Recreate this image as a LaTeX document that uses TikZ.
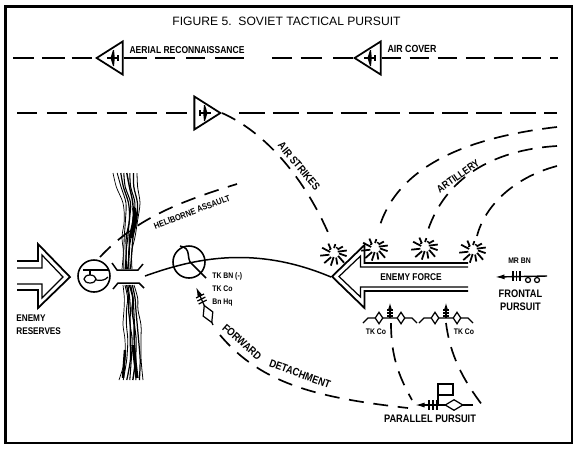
\documentclass[tikz,border=0pt]{standalone}
\usepackage{fontspec}
\setmainfont{Liberation Sans}
\newfontfamily\stencilfont[FakeStretch=0.85]{Liberation Sans}
\usetikzlibrary{arrows.meta, positioning, shapes.geometric, calc}
\newcommand{\lblat}[1]{\stencilfont\bfseries\fontsize{#1}{7.4}\selectfont}
\tikzset{
    frame/.style   ={draw=black, line width=1.5pt},
    solidln/.style ={draw=black, line width=0.85pt},
    dashln/.style  ={draw=black, line width=0.95pt, dash pattern=on 11pt off 5pt},
    curveln/.style ={draw=black, line width=0.95pt, dash pattern=on 8.5pt off 5.5pt},
    thinln/.style  ={draw=black, line width=0.7pt},
    ar/.style      ={-{Latex[length=1.9mm,width=1mm]}, line width=0.8pt, draw=black},
    craft/.style   ={draw=black, line width=1pt, fill=white, isosceles triangle,
                     isosceles triangle apex angle=65, isosceles triangle stretches,
                     minimum height=0.52cm, minimum width=0.66cm, inner sep=0pt, anchor=apex},
    lbl/.style     ={font=\lblat{6.2}, inner sep=0pt, align=left},
    smlbl/.style   ={font=\lblat{4.6}, inner sep=0pt, align=left},
    diam/.style    ={draw=black, line width=0.7pt, fill=white, diamond, inner sep=0pt,
                     minimum width=0.18cm, minimum height=0.25cm},
    ring/.style    ={draw=black, line width=0.9pt, fill=white, circle, inner sep=0pt, minimum size=0.64cm},
    plane/.pic     ={
      \draw[line width=0.9pt] (-6,0) -- (6,0);
      \fill (-2.5,0) -- (0,-8) -- (1,-8) -- (1.8,0) -- (1,8) -- (0,8) -- cycle;
      \draw[line width=0.6pt] (5,-3) -- (5,3);
    },
    burst/.pic     ={
      \foreach \a/\i/\o in {5/5/13, 35/5/14, 65/5/12, 95/4/13, 125/5/14, 160/5/14, 195/4/13,
                            230/5/11, 270/5/9, 315/5/11, 340/4/13}
        \draw[line width=1pt] (\a:\i) -- (\a+9:\o);
      \draw[line width=0.8pt] (215:6) -- (235:5) (290:6) -- (310:6);
    },
    company/.pic   ={
      \draw[thinln] (-27,2) -- (-22,-3) -- (22,-3) -- (27,2);
      \node[diam, minimum width=0.16cm, minimum height=0.24cm] at (-11,-3) {};
      \node[diam, minimum width=0.16cm, minimum height=0.24cm] at (11,-3) {};
      \draw[-{Latex[length=1.4mm,width=0.7mm]}, thinln] (0,-3) -- (0,-19);
      \foreach \t in {-5,-8,-11} \draw[thinln] (-3,\t) -- (3,\t);
    }
}
\newcommand{\strand}[2]{%
  \draw[line width=#2pt] plot[smooth] coordinates {({125+#1*12},173) ({127+#1*10+sin(#1*500)},187)
    ({131.5+#1*8.5},203) ({131+#1*7+sin(#1*700)},220) ({128.5+#1*6.5},237)
    ({127.5+#1*5+sin(#1*600)},252) ({127+#1*5},269)};
  \draw[line width=#2pt] plot[smooth] coordinates {({128.5+#1*5.5},285) ({131+#1*6+sin(#1*500)},298)
    ({131+#1*7},310) ({132+#1*8+sin(#1*800)},325) ({133+#1*8},340) ({133+#1*9+sin(#1*600)},360)
    ({131+#1*12},380)};
}

\begin{document}
\begin{tikzpicture}[x=0.02cm, y=-0.02cm]
  \useasboundingbox (0,0) rectangle (580,461);
  \draw[frame] (5.5,6.5) rectangle (572,443);

  \node[inner sep=0pt, font=\fontsize{6.9}{9}\selectfont] (title) at (286.5,21)
       {FIGURE 5.\ \ SOVIET TACTICAL PURSUIT};

  % aircraft
  \coordinate (lineA) at (13,58);
  \coordinate (lineAend) at (558,58);
  \coordinate (lineB) at (17,113);
  \coordinate (lineBend) at (557,113);
  \node[craft, shape border rotate=180] (recon) at (95,58) {};
  \node[craft, shape border rotate=180] (cover) at (353,58) {};
  \node[craft] (strike) at (222,113) {};
  \pic at (113,58) {plane};
  \pic at (370,58) {plane};
  \pic[rotate=180] at (205,113) {plane};
  \draw[dashln, dash pattern=on 11.9pt off 4.5pt on 13pt off 4pt on 11.3pt off 4pt] (lineA) -- (recon.apex);
  \draw[dashln, dash pattern=on 13.6pt off 4.5pt on 11.3pt off 6.2pt on 10.8pt off 5.7pt on 16.4pt
        off 15.9pt on 11.3pt off 5.1pt on 11.9pt off 6.8pt on 11.9pt] (recon.east) -- (cover.apex);
  \draw[dashln] (cover.east) -- (lineAend);
  \draw[dashln, dash pattern=on 11.6pt off 5.4pt] (lineB) -- (strike.west);
  \coordinate (lineBmid) at (239,113);
  \draw[dashln, dash pattern=on 14.7pt off 4.6pt] (lineBmid) -- (lineBend);
  \node[lbl, font=\lblat{5.7}] (aerial) at (187,50) {AERIAL RECONNAISSANCE};
  \node[lbl, font=\lblat{5.9}] (aircov) at (412,49) {AIR COVER};

  % bursts
  \coordinate (burstA) at (334,253);
  \coordinate (burstB) at (375,248);
  \coordinate (burstC) at (425,247);
  \coordinate (burstD) at (473,250);
  \foreach \b in {burstA,burstB,burstC,burstD} \pic at (\b) {burst};

  % strike and artillery
  \coordinate (strikeend) at (330,237);
  \draw[curveln] (strike.apex) .. controls (265,132) and (305,178) .. (strikeend);
  \node[lbl, rotate=-50] (airstr) at (299,166) {AIR STRIKES};
  \coordinate (artA) at (557,127);
  \coordinate (artAend) at (378,232);
  \coordinate (artB) at (557,146);
  \coordinate (artBend) at (428,230);
  \coordinate (artC) at (557,166);
  \coordinate (artCend) at (477,236);
  \draw[curveln] (artA) .. controls (470,137) and (395,165) .. (artAend);
  \draw[curveln] (artB) .. controls (490,150) and (445,180) .. (artBend);
  \draw[curveln] (artC) .. controls (515,177) and (485,205) .. (artCend);
  \node[lbl, font=\lblat{5.9}, rotate=35] (artil) at (458,176) {ARTILLERY};

  % enemy force
  \draw[line width=1pt] (468,263) -- (364.5,263) -- (364.5,245) -- (332,276.5)
       -- (364.5,308) -- (364.5,291) -- (468,291);
  \draw[thinln] (468,267) -- (360.5,267) -- (360.5,256) -- (339,276.5)
       -- (360.5,297) -- (360.5,287) -- (468,287);
  \node[lbl, font=\lblat{5.6}] (enemyf) at (411,277) {ENEMY FORCE};

  % enemy reserves
  \draw[line width=1pt] (17,261) -- (38,261) -- (38,244) -- (70,277)
       -- (38,308) -- (38,290) -- (17,290);
  \draw[thinln] (17,268) -- (42,268) -- (42,255) -- (63,277) -- (42,298)
       -- (42,284) -- (17,284);
  \node[lbl, font=\lblat{5.5}, anchor=west] (reserv) at (16,325) {ENEMY\\RESERVES};

  % river and bridge
  \foreach \k/\w in {-1/0.4,-0.65/0.5,-0.35/0.7,-0.1/0.6,0.15/0.8,0.4/0.6,0.7/0.7,1/0.45}
    {\strand{\k}{\w}}
  \draw[line width=2.2pt] (134,208) .. controls (137,220) and (133,228) .. (131,238);
  \draw[line width=1.8pt] (133,345) -- (137,378);
  \draw[line width=1.4pt] (125,350) -- (123,378);
  \coordinate (bridgeA) at (112,263);
  \coordinate (bridgeB) at (143,264);
  \coordinate (bridgeC) at (113,289);
  \coordinate (bridgeD) at (144,288);
  \fill[white] (110,271) rectangle (146,283);
  \draw[solidln] (bridgeA) -- (117,270) -- (138,270) -- (bridgeB);
  \draw[solidln] (bridgeC) -- (118,283) -- (139,283) -- (bridgeD);

  % heliborne
  \node[ring] (helo) at (94,276) {};
  \draw[thinln] (83,270) -- (109,270) (90,270) -- (90,275);
  \draw[thinln] (90,279) ellipse (6 and 4) (96,280) .. controls (102,281) and (105,280) .. (108,277);
  \coordinate (heliend) at (237,184);
  \draw[curveln] (helo) ++(6,-19) .. controls (135,220) and (175,203) .. (heliend);
  \node[lbl, font=\lblat{5}, rotate=21] (heli) at (192,212) {HELIBORNE ASSAULT};

  % axis of advance and tank battalion
  \coordinate (axis) at (145,276);
  \draw[solidln] (axis) .. controls (195,258) and (255,245) .. (331,277);
  \node[draw=black, line width=0.9pt, circle, inner sep=0pt, minimum size=0.64cm] (tkbn) at (189,262) {};
  \coordinate (tkbnA) at (180,246);
  \coordinate (tkbnB) at (206,278);
  \draw[solidln] (tkbnA) .. controls (192,248) and (186,258) .. (191,263) -- (tkbnB);
  \node[smlbl, anchor=north west] (tktxt) at (212,272.5)
       {TK BN (-)\\TK Co\\Bn Hq};

  % forward detachment
  \coordinate (fwdA) at (213,325);
  \coordinate (fwdB) at (196,287);
  \draw[ar, line width=0.7pt] (fwdA) -- (fwdB);
  \node[diam, rotate=24, minimum width=0.22cm, minimum height=0.38cm] (fwdD) at (208,314) {};
  \foreach \t in {296,299,302}
    \draw[thinln] ($(fwdA)!{(325-\t)/38}!(fwdB)+(-4,2)$) -- ($(fwdA)!{(325-\t)/38}!(fwdB)+(4,-2)$);
  \coordinate (fwdC) at (220,335);
  \coordinate (fwdE) at (408,408);
  \draw[curveln] (fwdC) .. controls (262,385) and (320,398) .. (fwdE);
  \node[lbl, rotate=-41] (fwdtxt) at (242,342) {FORWARD};
  \node[lbl, rotate=-20] (dettxt) at (300,374) {DETACHMENT};

  % frontal pursuit
  \coordinate (frontA) at (547,276);
  \coordinate (frontB) at (495,277);
  \draw[ar] (frontA) -- (frontB);
  \foreach \x in {513,516.5,520} \draw[thinln] (\x,271) -- (\x,281);
  \draw[thinln] (528,280) circle (2.5) (537,280) circle (2.5);
  \node[smlbl] (mrbn) at (519.5,261) {MR BN};
  \node[lbl, align=center] (front) at (520.5,300) {FRONTAL\\PURSUIT};

  % tank companies and parallel pursuit
  \pic at (390,321) {company};
  \pic at (446,321) {company};
  \node[smlbl] (tkcoA) at (376,332) {TK Co};
  \node[smlbl] (tkcoB) at (464,332) {TK Co};
  \coordinate (parA) at (391,323);
  \coordinate (parAend) at (412,400);
  \coordinate (parB) at (446,323);
  \coordinate (parBend) at (483,406);
  \draw[curveln] (parA) .. controls (391,355) and (398,375) .. (parAend);
  \draw[curveln] (parB) .. controls (450,355) and (463,380) .. (parBend);
  \coordinate (parC) at (473,405);
  \coordinate (parD) at (415,405);
  \draw[ar] (parC) -- (parD);
  \foreach \x in {429,433,437} \draw[thinln] (\x,400) -- (\x,410);
  \node[diam, minimum width=0.36cm, minimum height=0.22cm] (parE) at (454,405) {};
  \draw[solidln] (438,405) -- (438,384) -- (453,384) -- (453,395) -- (438,395);
  \node[lbl] (par) at (430,419) {PARALLEL PURSUIT};
\end{tikzpicture}
\end{document}
